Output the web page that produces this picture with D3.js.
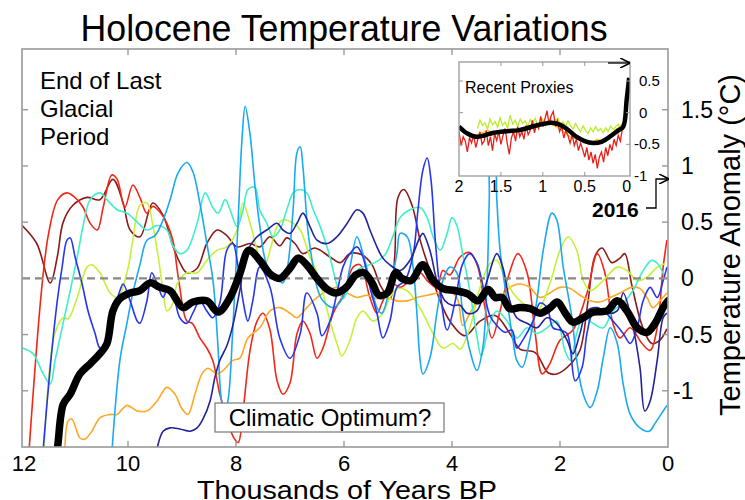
<!DOCTYPE html>
<html><head><meta charset="utf-8">
<script src="https://cdn.jsdelivr.net/npm/d3@7"></script>
<style>
body{margin:0;background:#fff}
svg{display:block}
text{font-family:"Liberation Sans",Arial,Helvetica,sans-serif;fill:#000}
</style>
</head><body>
<svg id="chart" width="745" height="500"></svg>
<script>
// ---------- DATA (kyr BP, temperature anomaly °C) ----------
const maroon = [[11.96,0.47],[11.69,0.31],[11.44,-0.04],[11.31,0.19],[11.2,0.5],[11.02,0.65],[10.76,0.72],[10.52,0.7],[10.28,0.88],[10.09,0.67],[9.96,0.43],[9.78,0.37],[9.54,0.67],[9.35,0.56],[9.17,0.29],[9.04,0.14],[8.91,0.05],[8.72,0.09],[8.54,0.31],[8.35,0.43],[8.17,0.38],[7.98,0.28],[7.74,0.31],[7.56,0.28],[7.37,0.37],[7.19,0.29],[7.06,0.36],[6.91,0.31],[6.76,0.22],[6.54,0.27],[6.26,0.19],[6.07,0.14],[5.89,0.22],[5.67,0.21],[5.48,0.12],[5.33,-0.06],[5.15,-0.18],[5.06,0.2],[5.0,0.72],[4.89,0.79],[4.74,0.65],[4.59,0.34],[4.41,0.07],[4.22,-0.2],[4.04,-0.38],[3.76,-0.51],[3.48,-0.38],[3.2,-0.33],[2.93,-0.49],[2.74,-0.63],[2.46,-0.66],[2.22,-0.84],[2.06,-0.85],[1.78,-0.75],[1.63,-0.64],[1.48,-0.2],[1.35,0.2],[1.22,0.27],[1.04,0.14],[0.89,0.18],[0.8,0.22],[0.67,-0.06],[0.48,-0.42],[0.3,-0.58],[0.15,-0.55],[0.02,-0.45]];
const red = [[11.85,-1.65],[11.6,-0.1],[11.47,0.4],[11.3,0.7],[11.13,0.76],[10.94,0.7],[10.83,0.63],[10.7,0.49],[10.57,0.43],[10.46,0.63],[10.3,0.92],[10.2,0.88],[10.06,0.63],[9.91,0.83],[9.78,0.72],[9.65,0.58],[9.54,0.64],[9.41,0.59],[9.28,0.49],[9.17,0.34],[9.06,-0.02],[8.91,-0.38],[8.81,-0.4],[8.67,-0.53],[8.54,-0.62],[8.43,-0.73],[8.3,-1.03],[8.17,-1.24],[8.06,-1.4],[7.96,-1.46],[7.87,-1.18],[7.74,-0.64],[7.61,-0.38],[7.5,-0.31],[7.37,-0.46],[7.24,-0.91],[7.13,-1.03],[7.0,-0.93],[6.87,-0.49],[6.76,-0.38],[6.63,-0.49],[6.5,-0.71],[6.39,-0.62],[6.2,-0.31],[6.02,-0.15],[5.83,0.1],[5.7,0.12],[5.52,-0.17],[5.39,-0.31],[5.28,-0.2],[5.09,-0.05],[4.96,-0.08],[4.78,-0.02],[4.59,0.05],[4.46,-0.02],[4.28,-0.08],[4.17,0.07],[4.04,0.03],[3.85,0.19],[3.67,0.23],[3.52,0.1],[3.39,-0.26],[3.26,-0.53],[3.11,-0.29],[2.96,0.01],[2.78,0.22],[2.61,0.05],[2.46,-0.49],[2.33,-0.85],[2.19,-0.76],[2.0,-0.55],[1.76,-0.46],[1.5,-0.13],[1.31,0.22],[1.17,0.05],[1.02,-0.4],[0.89,-0.53],[0.7,-0.44],[0.48,-0.58],[0.33,-0.64],[0.2,-0.44],[0.09,0.1],[0.02,0.34]];
const orange = [[11.17,-1.63],[11.11,-1.27],[11.04,-1.25],[10.89,-1.42],[10.8,-1.43],[10.67,-1.36],[10.52,-1.24],[10.33,-1.21],[10.2,-1.21],[10.02,-1.13],[9.83,-1.18],[9.65,-1.18],[9.46,-1.09],[9.28,-0.97],[9.13,-1.03],[9.0,-1.16],[8.89,-1.21],[8.76,-1.03],[8.63,-0.85],[8.52,-0.8],[8.35,-0.85],[8.24,-0.82],[8.06,-0.73],[7.93,-0.71],[7.78,-0.53],[7.56,-0.44],[7.37,-0.29],[7.19,-0.26],[7.0,-0.31],[6.87,-0.35],[6.69,-0.26],[6.5,-0.17],[6.31,-0.11],[6.13,-0.08],[5.94,-0.13],[5.76,-0.17],[5.57,-0.15],[5.39,-0.18],[5.2,-0.17],[5.02,-0.2],[4.83,-0.2],[4.65,-0.17],[4.46,-0.15],[4.28,-0.13],[4.09,-0.11],[3.91,-0.17],[3.8,-0.42],[3.67,-0.31],[3.48,-0.17],[3.3,-0.13],[3.11,-0.17],[2.93,-0.08],[2.74,-0.05],[2.56,-0.08],[2.37,-0.17],[2.19,-0.13],[2.0,-0.08],[1.81,-0.09],[1.63,-0.15],[1.44,-0.2],[1.26,-0.21],[1.07,-0.17],[0.89,-0.13],[0.67,-0.08],[0.52,-0.09],[0.39,-0.17],[0.28,-0.26],[0.15,-0.2],[0.02,-0.13]];
const yellowGreen = [[11.57,-1.65],[11.36,-0.5],[11.2,-0.35],[11.11,-0.36],[10.94,-0.17],[10.76,0.1],[10.67,0.12],[10.52,0.05],[10.33,-0.13],[10.19,-0.17],[10.02,0.05],[9.91,0.34],[9.78,0.65],[9.65,0.67],[9.54,0.47],[9.44,0.19],[9.35,-0.11],[9.28,-0.29],[9.17,-0.22],[9.09,-0.05],[8.91,0.05],[8.72,0.05],[8.54,0.16],[8.35,0.25],[8.17,0.28],[7.98,0.43],[7.87,0.67],[7.74,0.49],[7.61,0.25],[7.5,0.07],[7.37,0.25],[7.24,0.46],[7.13,0.52],[6.94,0.49],[6.81,0.43],[6.63,0.19],[6.5,0.05],[6.39,-0.13],[6.26,-0.38],[6.13,-0.58],[6.04,-0.69],[5.89,-0.55],[5.76,-0.35],[5.65,-0.29],[5.46,-0.38],[5.28,-0.31],[5.15,-0.17],[5.0,-0.09],[4.83,-0.11],[4.72,-0.17],[4.54,-0.31],[4.35,-0.49],[4.17,-0.62],[3.98,-0.58],[3.85,-0.63],[3.67,-0.44],[3.48,-0.08],[3.3,0.13],[3.17,0.16],[3.06,0.05],[2.87,-0.13],[2.69,-0.22],[2.43,-0.29],[2.19,-0.05],[2.0,0.25],[1.85,0.37],[1.69,0.25],[1.57,-0.02],[1.44,-0.11],[1.2,-0.02],[0.94,0.1],[0.76,0.07],[0.57,-0.02],[0.39,0.01],[0.2,0.1],[0.06,0.13]];
const aquamarine = [[11.96,-0.62],[11.76,-0.67],[11.57,-0.85],[11.44,-0.94],[11.35,-0.73],[11.22,-0.44],[11.07,-0.11],[10.94,0.19],[10.83,0.47],[10.7,0.7],[10.52,0.76],[10.39,0.7],[10.2,0.61],[10.02,0.58],[9.83,0.5],[9.65,0.43],[9.46,0.47],[9.28,0.43],[9.17,0.29],[9.04,0.22],[8.91,0.25],[8.72,0.49],[8.57,0.76],[8.43,0.63],[8.33,0.58],[8.2,0.7],[8.11,0.61],[7.98,0.46],[7.87,0.61],[7.78,0.79],[7.65,0.81],[7.56,0.61],[7.43,0.49],[7.31,0.37],[7.19,0.43],[7.06,0.61],[6.94,0.76],[6.81,0.79],[6.69,0.76],[6.57,0.61],[6.44,0.46],[6.26,0.19],[6.13,-0.06],[6.02,-0.18],[5.89,-0.06],[5.76,0.07],[5.65,0.1],[5.43,0.14],[5.24,0.21],[5.09,0.38],[4.96,0.54],[4.78,0.61],[4.59,0.63],[4.46,0.54],[4.35,0.37],[4.22,0.25],[4.09,0.4],[4.0,0.54],[3.91,0.47],[3.8,0.21],[3.67,-0.11],[3.54,-0.51],[3.46,-0.69],[3.3,-0.4],[3.17,-0.29],[2.98,-0.38],[2.8,-0.53],[2.61,-0.44],[2.43,-0.49],[2.24,-0.44],[2.06,-0.38],[1.91,-0.64],[1.81,-0.73],[1.69,-0.49],[1.57,-0.35],[1.39,-0.4],[1.2,-0.44],[1.02,-0.29],[0.83,-0.22],[0.65,-0.11],[0.46,0.07],[0.3,0.16],[0.19,0.13],[0.06,0.01]];
const lightBlue = [[10.31,-1.63],[10.15,-0.73],[10.02,-0.4],[9.91,-0.13],[9.78,0.12],[9.65,0.34],[9.5,0.38],[9.35,0.52],[9.22,0.7],[9.07,0.94],[8.91,1.03],[8.8,0.95],[8.67,0.67],[8.54,0.31],[8.44,0.03],[8.39,-0.2],[8.33,-0.64],[8.28,-1.04],[8.22,-1.2],[8.15,-1.09],[8.06,-0.46],[7.96,0.52],[7.89,1.23],[7.83,1.53],[7.74,1.28],[7.65,0.83],[7.56,0.47],[7.43,0.12],[7.24,0.0],[7.13,-0.04],[7.04,0.12],[6.94,0.63],[6.87,1.12],[6.81,1.17],[6.76,0.99],[6.67,0.43],[6.57,0.1],[6.5,-0.08],[6.39,-0.2],[6.2,-0.26],[6.02,-0.17],[5.89,0.1],[5.76,0.37],[5.65,0.22],[5.52,-0.02],[5.39,-0.26],[5.3,-0.31],[5.15,-0.08],[5.02,0.22],[4.96,0.4],[4.83,0.37],[4.72,0.1],[4.65,-0.31],[4.59,-0.73],[4.54,-0.85],[4.41,-0.71],[4.28,-0.31],[4.17,-0.02],[4.04,0.1],[3.91,0.05],[3.8,-0.31],[3.67,-0.64],[3.54,-0.82],[3.43,-0.62],[3.35,-0.02],[3.31,0.7],[3.28,1.14],[3.22,1.14],[3.17,0.7],[3.11,0.25],[2.98,-0.2],[2.87,-0.55],[2.8,-0.73],[2.7,-0.79],[2.56,-0.55],[2.43,-0.2],[2.31,0.25],[2.15,0.58],[2.06,0.52],[1.94,0.1],[1.78,-0.35],[1.69,-0.73],[1.57,-1.03],[1.44,-1.15],[1.31,-1.0],[1.2,-0.71],[1.07,-0.44],[0.94,-0.58],[0.83,-0.94],[0.7,-1.21],[0.52,-1.33],[0.35,-1.36],[0.24,-1.29],[0.13,-1.21],[0.02,-1.13]];
const blue = [[11.59,-1.63],[11.44,-0.79],[11.31,-0.2],[11.22,0.1],[11.13,0.34],[11.07,0.36],[10.98,0.19],[10.85,-0.05],[10.74,-0.29],[10.61,-0.49],[10.52,-0.62],[10.43,-0.62],[10.33,-0.46],[10.24,-0.26],[10.15,-0.11],[10.09,-0.05],[9.96,-0.2],[9.83,-0.38],[9.78,-0.4],[9.65,-0.2],[9.56,0.05],[9.46,-0.05],[9.35,-0.17],[9.26,-0.08],[9.17,-0.13],[9.04,-0.35],[8.91,-0.4],[8.8,-0.31],[8.67,-0.2],[8.54,-0.29],[8.43,-0.35],[8.3,-0.22],[8.17,0.25],[8.06,0.31],[7.96,0.1],[7.87,-0.2],[7.78,-0.38],[7.69,-0.2],[7.56,0.1],[7.37,-0.08],[7.19,-0.53],[7.0,-0.71],[6.81,-0.49],[6.69,-0.13],[6.5,-0.31],[6.41,-0.51],[6.26,-0.38],[6.13,-0.13],[6.02,0.1],[5.89,0.22],[5.76,0.28],[5.65,0.19],[5.52,-0.08],[5.39,-0.31],[5.28,-0.53],[5.15,-0.38],[5.02,-0.08],[4.87,-0.02],[4.72,0.21],[4.63,0.61],[4.54,0.96],[4.46,1.07],[4.39,0.88],[4.31,0.34],[4.22,-0.11],[4.09,-0.46],[3.94,-0.2],[3.81,0.12],[3.67,0.22],[3.54,0.14],[3.43,-0.06],[3.3,-0.33],[3.17,-0.42],[3.02,-0.48],[2.89,-0.46],[2.8,-0.62],[2.69,-0.55],[2.5,-0.38],[2.37,-0.22],[2.24,-0.26],[2.13,-0.44],[2.0,-0.46],[1.87,-0.49],[1.72,-0.91],[1.59,-0.79],[1.5,-0.49],[1.39,-0.31],[1.2,-0.29],[1.02,-0.38],[0.83,-0.49],[0.7,-0.58],[0.57,-0.44],[0.46,-0.2],[0.33,-0.08],[0.2,-0.17],[0.09,-0.02],[0.02,0.1]];
const darkBlue = [[9.5,-1.63],[9.46,-1.51],[9.35,-1.36],[9.22,-1.33],[9.04,-1.34],[8.85,-1.36],[8.72,-1.33],[8.61,-1.25],[8.48,-1.09],[8.39,-0.88],[8.3,-0.73],[8.17,-0.6],[8.06,-0.42],[7.93,-0.11],[7.8,0.23],[7.61,0.37],[7.43,0.43],[7.24,0.49],[7.13,0.43],[7.0,0.4],[6.87,0.49],[6.76,0.58],[6.63,0.46],[6.5,0.34],[6.31,0.31],[6.13,0.37],[5.94,0.49],[5.76,0.61],[5.65,0.58],[5.52,0.43],[5.39,0.28],[5.28,0.18],[5.15,0.12],[4.96,0.07],[4.78,0.16],[4.59,0.37],[4.54,0.4],[4.41,0.25],[4.28,-0.02],[4.13,-0.2],[4.0,-0.24],[3.85,-0.24],[3.72,-0.31],[3.54,-0.29],[3.35,-0.02],[3.17,0.22],[3.06,0.1],[2.93,-0.2],[2.8,-0.35],[2.61,-0.4],[2.43,-0.44],[2.24,-0.35],[2.06,-0.4],[1.87,-0.55],[1.76,-0.67],[1.63,-0.49],[1.5,-0.29],[1.31,-0.26],[1.13,-0.31],[0.94,-0.29],[0.83,-0.13],[0.67,-0.38],[0.52,-0.79],[0.43,-1.18],[0.33,-1.09],[0.2,-0.73],[0.09,-0.35],[0.02,-0.31]];
const average = [[11.4,-1.75],[11.31,-1.52],[11.2,-1.12],[11.07,-1.03],[10.89,-0.85],[10.7,-0.76],[10.52,-0.67],[10.39,-0.58],[10.28,-0.29],[10.15,-0.18],[9.96,-0.13],[9.78,-0.11],[9.59,-0.04],[9.41,-0.08],[9.22,-0.11],[8.98,-0.26],[8.8,-0.21],[8.54,-0.2],[8.33,-0.3],[8.11,-0.17],[7.93,0.04],[7.76,0.25],[7.56,0.16],[7.37,0.04],[7.19,0.0],[7.0,0.09],[6.85,0.18],[6.69,0.12],[6.5,0.0],[6.33,-0.09],[6.15,-0.13],[5.96,-0.08],[5.78,0.03],[5.63,0.05],[5.48,-0.04],[5.35,-0.15],[5.2,-0.13],[5.04,0.05],[4.93,0.0],[4.76,-0.02],[4.54,0.12],[4.35,-0.02],[4.17,-0.09],[3.93,-0.11],[3.7,-0.14],[3.52,-0.2],[3.33,-0.1],[3.2,-0.17],[3.07,-0.17],[2.93,-0.27],[2.74,-0.26],[2.55,-0.27],[2.37,-0.31],[2.18,-0.26],[2.05,-0.21],[1.9,-0.31],[1.76,-0.39],[1.57,-0.35],[1.39,-0.3],[1.13,-0.29],[0.94,-0.2],[0.76,-0.29],[0.57,-0.44],[0.39,-0.48],[0.24,-0.4],[0.09,-0.26],[0.0,-0.2]];

// inset: recent proxies (last 2 kyr)
const insetRed = [[2.0,-0.3],[1.975,-0.52],[1.95,-0.38],[1.925,-0.45],[1.9,-0.62],[1.875,-0.4],[1.85,-0.48],[1.825,-0.35],[1.8,-0.55],[1.775,-0.42],[1.75,-0.3],[1.725,-0.5],[1.7,-0.45],[1.675,-0.28],[1.65,-0.52],[1.625,-0.38],[1.6,-0.6],[1.575,-0.33],[1.55,-0.44],[1.525,-0.3],[1.5,-0.5],[1.475,-0.36],[1.45,-0.25],[1.425,-0.48],[1.4,-0.66],[1.375,-0.4],[1.35,-0.3],[1.325,-0.45],[1.3,-0.22],[1.275,-0.38],[1.25,-0.3],[1.225,-0.42],[1.2,-0.2],[1.175,-0.35],[1.15,-0.28],[1.125,-0.12],[1.1,-0.32],[1.075,-0.18],[1.05,-0.25],[1.025,-0.06],[1.0,-0.22],[0.975,-0.1],[0.95,0.03],[0.925,-0.18],[0.9,-0.05],[0.875,0.02],[0.85,-0.2],[0.825,-0.12],[0.8,-0.3],[0.775,-0.22],[0.75,-0.4],[0.725,-0.28],[0.7,-0.36],[0.675,-0.48],[0.65,-0.35],[0.625,-0.52],[0.6,-0.42],[0.575,-0.6],[0.55,-0.48],[0.525,-0.58],[0.5,-0.7],[0.475,-0.55],[0.45,-0.75],[0.425,-0.62],[0.4,-0.8],[0.375,-0.66],[0.35,-0.88],[0.325,-0.7],[0.3,-0.62],[0.275,-0.78],[0.25,-0.55],[0.225,-0.68],[0.2,-0.5],[0.175,-0.6],[0.15,-0.42],[0.125,-0.52],[0.1,-0.36],[0.075,-0.45],[0.05,-0.25],[0.025,-0.15],[0.0,0.2]];
const insetYellow = [[1.85,-0.38],[1.75,-0.33],[1.65,-0.28],[1.55,-0.34],[1.45,-0.3],[1.35,-0.26],[1.25,-0.3],[1.15,-0.24],[1.05,-0.22],[0.95,-0.17],[0.85,-0.21],[0.75,-0.3],[0.65,-0.4],[0.55,-0.42],[0.45,-0.5],[0.35,-0.42],[0.25,-0.46],[0.15,-0.3],[0.05,-0.18]];
const insetYellowGreen = [[1.78,-0.25],[1.75,-0.12],[1.72,-0.2],[1.69,-0.16],[1.66,-0.26],[1.63,-0.1],[1.6,-0.19],[1.57,-0.14],[1.54,-0.23],[1.51,-0.08],[1.48,-0.2],[1.45,-0.15],[1.42,-0.24],[1.39,-0.04],[1.36,-0.18],[1.33,-0.12],[1.3,-0.22],[1.27,-0.1],[1.24,-0.17],[1.21,-0.13],[1.18,-0.22],[1.15,-0.11],[1.12,-0.16],[1.09,-0.09],[1.06,-0.2],[1.03,-0.14],[1.0,-0.1],[0.97,-0.21],[0.94,-0.15],[0.91,-0.08],[0.88,-0.18],[0.85,-0.12],[0.82,-0.09],[0.79,-0.2],[0.76,-0.14],[0.73,-0.22],[0.7,-0.13],[0.67,-0.2],[0.64,-0.26],[0.61,-0.17],[0.58,-0.24],[0.55,-0.3],[0.52,-0.21],[0.49,-0.28],[0.46,-0.33],[0.43,-0.24],[0.4,-0.3],[0.37,-0.22],[0.34,-0.29],[0.31,-0.25],[0.28,-0.32],[0.25,-0.24],[0.22,-0.3],[0.19,-0.21],[0.16,-0.27],[0.13,-0.22],[0.1,-0.18],[0.07,-0.25]];
const insetAverage = [[2.0,-0.22],[1.9,-0.33],[1.8,-0.38],[1.7,-0.36],[1.6,-0.32],[1.5,-0.3],[1.4,-0.29],[1.3,-0.28],[1.2,-0.25],[1.1,-0.21],[1.0,-0.18],[0.9,-0.16],[0.8,-0.19],[0.7,-0.27],[0.6,-0.38],[0.5,-0.45],[0.4,-0.48],[0.3,-0.46],[0.2,-0.38],[0.1,-0.28],[0.04,-0.22],[0.0,0.2],[-0.03,0.55]];

const xTicks = [12,10,8,6,4,2,0];
const yTicks = [1.5,1,0.5,0,-0.5,-1];
const insetXTicks = [2,1.5,1,0.5,0];
const insetYTicks = [0.5,0,-0.5,-1];
const titleText = "Holocene Temperature Variations";
const xLabel = "Thousands of Years BP";
const yLabel = "Temperature Anomaly (°C)";
const noteLines = ["End of Last","Glacial","Period"];
const optimumText = "Climatic Optimum?";
const insetTitle = "Recent Proxies";
const yearLabel = "2016";

// ---------- DRAW ----------
const svg = d3.select("#chart");
const x = d3.scaleLinear().domain([12,0]).range([20,668]);
const y = d3.scaleLinear().domain([-1.5,2.04]).range([447,49]);
const L=22, R=668, T=49, B=447;
const frameColor = "#999";

const defs = svg.append("defs");
defs.append("clipPath").attr("id","plotclip")
  .append("rect").attr("x",L).attr("y",T).attr("width",R-L).attr("height",B-T);

const line = d3.line().x(d=>x(d[0])).y(d=>y(d[1])).curve(d3.curveCatmullRom.alpha(0.5));

const series = [
  {d:maroon, c:"#8b1a1a"},
  {d:red, c:"#f02818"},
  {d:orange, c:"#ffa826"},
  {d:yellowGreen, c:"#c4f23a"},
  {d:aquamarine, c:"#3eefc8"},
  {d:lightBlue, c:"#1aaaf2"},
  {d:blue, c:"#2536ee"},
  {d:darkBlue, c:"#23239a"}
];
const plot = svg.append("g").attr("clip-path","url(#plotclip)");
series.forEach(s=>{
  plot.append("path").datum(s.d).attr("d",line)
    .attr("fill","none").attr("stroke",s.c).attr("stroke-width",1.6)
    .attr("stroke-linejoin","round");
});
plot.append("line").attr("x1",L).attr("x2",R).attr("y1",y(0)).attr("y2",y(0))
  .attr("stroke","#888").attr("stroke-width",2.2).attr("stroke-dasharray","8,5");
plot.append("path").datum(average).attr("d",line)
  .attr("fill","none").attr("stroke","#000").attr("stroke-width",7.5)
  .attr("stroke-linejoin","round").attr("stroke-linecap","round");

// frame + ticks
svg.append("rect").attr("x",L).attr("y",T).attr("width",R-L).attr("height",B-T)
  .attr("fill","none").attr("stroke",frameColor).attr("stroke-width",1.6);
const tk=6;
xTicks.forEach(t=>{
  if(t===12||t===0) return;
  svg.append("line").attr("x1",x(t)).attr("x2",x(t)).attr("y1",B).attr("y2",B-tk).attr("stroke",frameColor).attr("stroke-width",1.4);
  svg.append("line").attr("x1",x(t)).attr("x2",x(t)).attr("y1",T).attr("y2",T+tk).attr("stroke",frameColor).attr("stroke-width",1.4);
});
xTicks.forEach(t=>{
  svg.append("text").attr("x",x(t)+(t===12?4:0)).attr("y",471).attr("text-anchor","middle")
    .attr("font-size",22).text(t);
});
yTicks.forEach(t=>{
  svg.append("line").attr("x1",L).attr("x2",L+tk).attr("y1",y(t)).attr("y2",y(t)).attr("stroke",frameColor).attr("stroke-width",1.4);
  svg.append("line").attr("x1",R).attr("x2",R-tk).attr("y1",y(t)).attr("y2",y(t)).attr("stroke",frameColor).attr("stroke-width",1.4);
  svg.append("text").attr("x",t<0?673:681).attr("y",y(t)+8).attr("font-size",23).text(t);
});

// axis titles
svg.append("text").attr("x",347).attr("y",499).attr("text-anchor","middle").attr("font-size",25)
  .attr("textLength",300).attr("lengthAdjust","spacingAndGlyphs").text(xLabel);
svg.append("text").attr("transform","translate(740,245) rotate(-90)").attr("text-anchor","middle").attr("font-size",29).text(yLabel);
svg.append("text").attr("x",344).attr("y",41).attr("text-anchor","middle").attr("font-size",37)
  .attr("textLength",527).attr("lengthAdjust","spacingAndGlyphs").text(titleText);

// notes
noteLines.forEach((s,i)=>{
  svg.append("text").attr("x",40).attr("y",89+i*28).attr("font-size",24).text(s);
});
svg.append("rect").attr("x",215).attr("y",403).attr("width",229).attr("height",29)
  .attr("fill","#fff").attr("stroke","#777").attr("stroke-width",1.2);
svg.append("text").attr("x",330).attr("y",426).attr("text-anchor","middle").attr("font-size",24).text(optimumText);

// ---------- INSET ----------
const iL=459, iR=630, iT=62, iB=176;
const ix = d3.scaleLinear().domain([2,-0.04]).range([iL,iR]);
const iy = d3.scaleLinear().domain([-1,0.8]).range([iB,iT]);
svg.append("rect").attr("x",iL).attr("y",iT).attr("width",iR-iL).attr("height",iB-iT).attr("fill","#fff");
defs.append("clipPath").attr("id","insetclip")
  .append("rect").attr("x",iL).attr("y",iT).attr("width",iR-iL).attr("height",iB-iT);
const iline = d3.line().x(d=>ix(d[0])).y(d=>iy(d[1]));
const ig = svg.append("g").attr("clip-path","url(#insetclip)");
ig.append("path").datum(insetYellowGreen).attr("d",iline).attr("fill","none").attr("stroke","#b8ee2a").attr("stroke-width",1.3);
ig.append("path").datum(insetYellow).attr("d",iline).attr("fill","none").attr("stroke","#ffcc11").attr("stroke-width",1.3);
ig.append("path").datum(insetRed).attr("d",iline).attr("fill","none").attr("stroke","#e8201a").attr("stroke-width",1.3);
ig.append("path").datum(insetAverage).attr("d",iline.curve(d3.curveCatmullRom.alpha(0.5)))
  .attr("fill","none").attr("stroke","#000").attr("stroke-width",4.5).attr("stroke-linejoin","round");
svg.append("rect").attr("x",iL).attr("y",iT).attr("width",iR-iL).attr("height",iB-iT)
  .attr("fill","none").attr("stroke",frameColor).attr("stroke-width",1.3);
insetXTicks.forEach(t=>{
  if(t!==2 && t!==0){
    svg.append("line").attr("x1",ix(t)).attr("x2",ix(t)).attr("y1",iB).attr("y2",iB-4).attr("stroke",frameColor);
    svg.append("line").attr("x1",ix(t)).attr("x2",ix(t)).attr("y1",iT).attr("y2",iT+4).attr("stroke",frameColor);
  }
  svg.append("text").attr("x",ix(t)).attr("y",192).attr("text-anchor","middle").attr("font-size",16).text(t);
});
insetYTicks.forEach(t=>{
  if(t!==-1){
    svg.append("line").attr("x1",iL).attr("x2",iL+4).attr("y1",iy(t)).attr("y2",iy(t)).attr("stroke",frameColor);
    svg.append("line").attr("x1",iR).attr("x2",iR-4).attr("y1",iy(t)).attr("y2",iy(t)).attr("stroke",frameColor);
  }
  svg.append("text").attr("x",t<0?634:639).attr("y",iy(t)+5).attr("font-size",15).text(t);
});
svg.append("text").attr("x",465).attr("y",93).attr("font-size",16).text(insetTitle);

// arrows
defs.append("marker").attr("id","arr").attr("viewBox","0 0 10 10").attr("refX",9).attr("refY",5)
  .attr("markerWidth",8).attr("markerHeight",8).attr("orient","auto")
  .append("path").attr("d","M0,0 L10,5 L0,10").attr("fill","none").attr("stroke","#000").attr("stroke-width",1.5);
svg.append("line").attr("x1",608).attr("x2",629).attr("y1",63).attr("y2",63)
  .attr("stroke","#000").attr("stroke-width",1.3).attr("marker-end","url(#arr)");
svg.append("path").attr("d","M646,208 H656 V179 H668").attr("fill","none")
  .attr("stroke","#000").attr("stroke-width",1.3).attr("marker-end","url(#arr)");
svg.append("text").attr("x",592).attr("y",217).attr("font-size",21).attr("font-weight","bold").text(yearLabel);
</script>
</body></html>
